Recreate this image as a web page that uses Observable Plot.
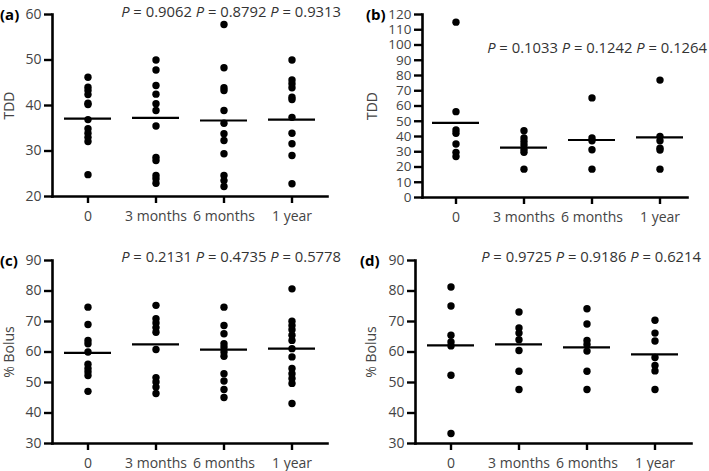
<!DOCTYPE html>
<html><head><meta charset="utf-8">
<script src="https://cdn.jsdelivr.net/npm/d3@7"></script>
<script src="https://cdn.jsdelivr.net/npm/@observablehq/plot@0.6"></script>
<style>
body{margin:0;background:#fff;}
#wrap{position:relative;width:709px;height:471px;font-family:"Open Sans",sans-serif;overflow:hidden;}
.panel{position:absolute;}
.plabel{position:absolute;font-weight:bold;font-size:15px;line-height:16px;color:#000;}
.pvals{position:absolute;font-size:14.8px;line-height:16px;color:#333;white-space:nowrap;text-align:right;}
</style></head>
<body><div id="wrap"></div>
<script>
const categories = ["0", "3 months", "6 months", "1 year"];

// Panel (a) TDD
const a0 = [46.2, 44.0, 43.3, 42.4, 40.5, 40.2, 36.9, 34.9, 33.9, 33.0, 32.1, 24.8];
const a3 = [50.0, 47.8, 44.4, 42.5, 40.4, 38.9, 35.5, 28.6, 27.9, 24.6, 23.9, 22.9];
const a6 = [57.8, 48.3, 43.9, 43.3, 38.9, 36.1, 33.8, 32.3, 29.4, 24.6, 23.5, 22.2];
const a12 = [50.0, 45.6, 44.8, 43.9, 41.8, 41.3, 37.4, 33.9, 31.6, 29.0, 22.8];
const meansA = [37.1, 37.3, 36.7, 36.9];
const pA = ["0.9062", "0.8792", "0.9313"];
const ticksA = [20, 30, 40, 50, 60];

// Panel (b) TDD
const b0 = [115, 56.3, 44.3, 42.1, 35.1, 29.6, 26.9];
const b3 = [43.8, 39.0, 36.8, 34.4, 31.5, 29.6, 18.6];
const b6 = [65.3, 39.0, 37.2, 31.3, 18.6];
const b12 = [77.0, 40.1, 37.2, 32.4, 31.1, 18.6];
const meansB = [48.9, 32.7, 37.7, 39.4];
const pB = ["0.1033", "0.1242", "0.1264"];
const ticksB = [0, 10, 20, 30, 40, 50, 60, 70, 80, 90, 100, 110, 120];

// Panel (c) % Bolus
const c0 = [74.7, 69.0, 63.8, 62.7, 60.0, 56.0, 54.6, 53.5, 52.3, 47.1];
const c3 = [75.3, 70.9, 69.5, 68.0, 66.5, 60.8, 51.6, 50.2, 48.5, 46.4];
const c6 = [74.7, 68.7, 66.0, 62.7, 61.6, 60.0, 58.6, 52.9, 50.5, 47.7, 45.1];
const c12 = [80.7, 70.1, 68.7, 67.3, 65.5, 63.8, 61.1, 58.4, 54.6, 52.9, 51.3, 49.7, 43.1];
const meansC = [59.7, 62.5, 60.8, 61.1];
const pC = ["0.2131", "0.4735", "0.5778"];

// Panel (d) % Bolus
const d0 = [81.3, 75.1, 65.5, 63.3, 62.0, 52.4, 33.3];
const d3 = [73.1, 67.9, 66.2, 64.0, 60.5, 53.7, 47.7];
const d6 = [74.2, 69.2, 63.8, 62.5, 60.3, 53.7, 47.7];
const d12 = [70.4, 66.2, 63.6, 58.2, 55.6, 53.8, 47.7];
const meansD = [62.2, 62.5, 61.5, 59.2];
const pD = ["0.9725", "0.9186", "0.6214"];
const ticksCD = [30, 40, 50, 60, 70, 80, 90];

const panelLabels = ["(a)", "(b)", "(c)", "(d)"];
const yLabels = ["TDD", "TDD", "% Bolus", "% Bolus"];

function rows(cols) {
  return cols.flatMap((vals, i) => vals.map(v => ({cat: categories[i], value: v})));
}
function meanRows(means) {
  return means.map((m, i) => ({cat: categories[i], mean: m}));
}

const panels = [
  {data: rows([a0, a3, a6, a12]), means: meanRows(meansA), p: pA, ticks: ticksA, domain: [20, 60], ylabel: yLabels[0], tag: panelLabels[0],
   L: {left: 0, top: 0, w: 354, h: 235, mL: 52, mR: 27, mT: 14, mB: 39, iL: 0, iR: 0, lo: 48, yfs: 14,
       tagX: 0, tagY: 6, pRight: 341, pTop: 3}},
  {data: rows([b0, b3, b6, b12]), means: meanRows(meansB), p: pB, ticks: ticksB, domain: [0, 120], ylabel: yLabels[1], tag: panelLabels[1],
   L: {left: 354, top: 0, w: 355, h: 235, mL: 68, mR: 22, mT: 14, mB: 38, iL: -2, iR: -8, lo: 55, yfs: 13.5,
       tagX: 366, tagY: 6, pRight: 707, pTop: 39}},
  {data: rows([c0, c3, c6, c12]), means: meanRows(meansC), p: pC, ticks: ticksCD, domain: [30, 90], ylabel: yLabels[2], tag: panelLabels[2],
   L: {left: 0, top: 235, w: 354, h: 236, mL: 52, mR: 27, mT: 25, mB: 28, iL: 0, iR: 0, lo: 48, yfs: 14,
       tagX: 0, tagY: 252, pRight: 341, pTop: 248}},
  {data: rows([d0, d3, d6, d12]), means: meanRows(meansD), p: pD, ticks: ticksCD, domain: [30, 90], ylabel: yLabels[3], tag: panelLabels[3],
   L: {left: 354, top: 235, w: 355, h: 236, mL: 61, mR: 18, mT: 25, mB: 28, iL: 1, iR: 1.5, lo: 49, yfs: 14,
       tagX: 360, tagY: 252, pRight: 701, pTop: 248}}
];

const wrap = document.getElementById("wrap");

for (const P of panels) {
  const L = P.L;
  const chart = Plot.plot({
    width: L.w, height: L.h,
    marginLeft: L.mL, marginRight: L.mR, marginTop: L.mT, marginBottom: L.mB,
    style: {fontFamily: "'Open Sans', sans-serif", fontSize: "14px", background: "transparent", overflow: "visible"},
    x: {type: "band", domain: categories, paddingInner: 0.31, paddingOuter: 0.155, insetLeft: L.iL, insetRight: L.iR},
    y: {domain: P.domain},
    marks: [
      Plot.frame({anchor: "left", stroke: "#000", strokeWidth: 2.6}),
      Plot.frame({anchor: "bottom", stroke: "#000", strokeWidth: 2.6}),
      Plot.axisY({ticks: P.ticks, tickSize: 8, tickPadding: 3, stroke: "#000", fill: "#444", strokeWidth: 2.4,
                  fontSize: L.yfs, label: null}),
      Plot.axisY({ticks: [], tickSize: 0, fill: "#444", fontSize: 14,
                  label: P.ylabel, labelAnchor: "center", labelOffset: L.lo, labelArrow: "none"}),
      Plot.axisX({tickSize: 7, tickPadding: 8, stroke: "#000", fill: "#444", strokeWidth: 2.4, fontSize: 14, label: null}),
      Plot.dot(P.data, {x: "cat", y: "value", r: 3.7, fill: "#000", stroke: "none"}),
      Plot.tickY(P.means, {x: "cat", y: "mean", stroke: "#000", strokeWidth: 2.2})
    ]
  });
  chart.classList.add("panel");
  chart.style.left = L.left + "px";
  chart.style.top = L.top + "px";
  wrap.appendChild(chart);

  const tag = document.createElement("div");
  tag.className = "plabel";
  tag.textContent = P.tag;
  tag.style.left = L.tagX + "px";
  tag.style.top = L.tagY + "px";
  wrap.appendChild(tag);

  const pv = document.createElement("div");
  pv.className = "pvals";
  pv.innerHTML = P.p.map(v => "<i>P</i> = " + v).join(" ");
  pv.style.right = (709 - L.pRight) + "px";
  pv.style.top = L.pTop + "px";
  wrap.appendChild(pv);
}
</script>
</body></html>
